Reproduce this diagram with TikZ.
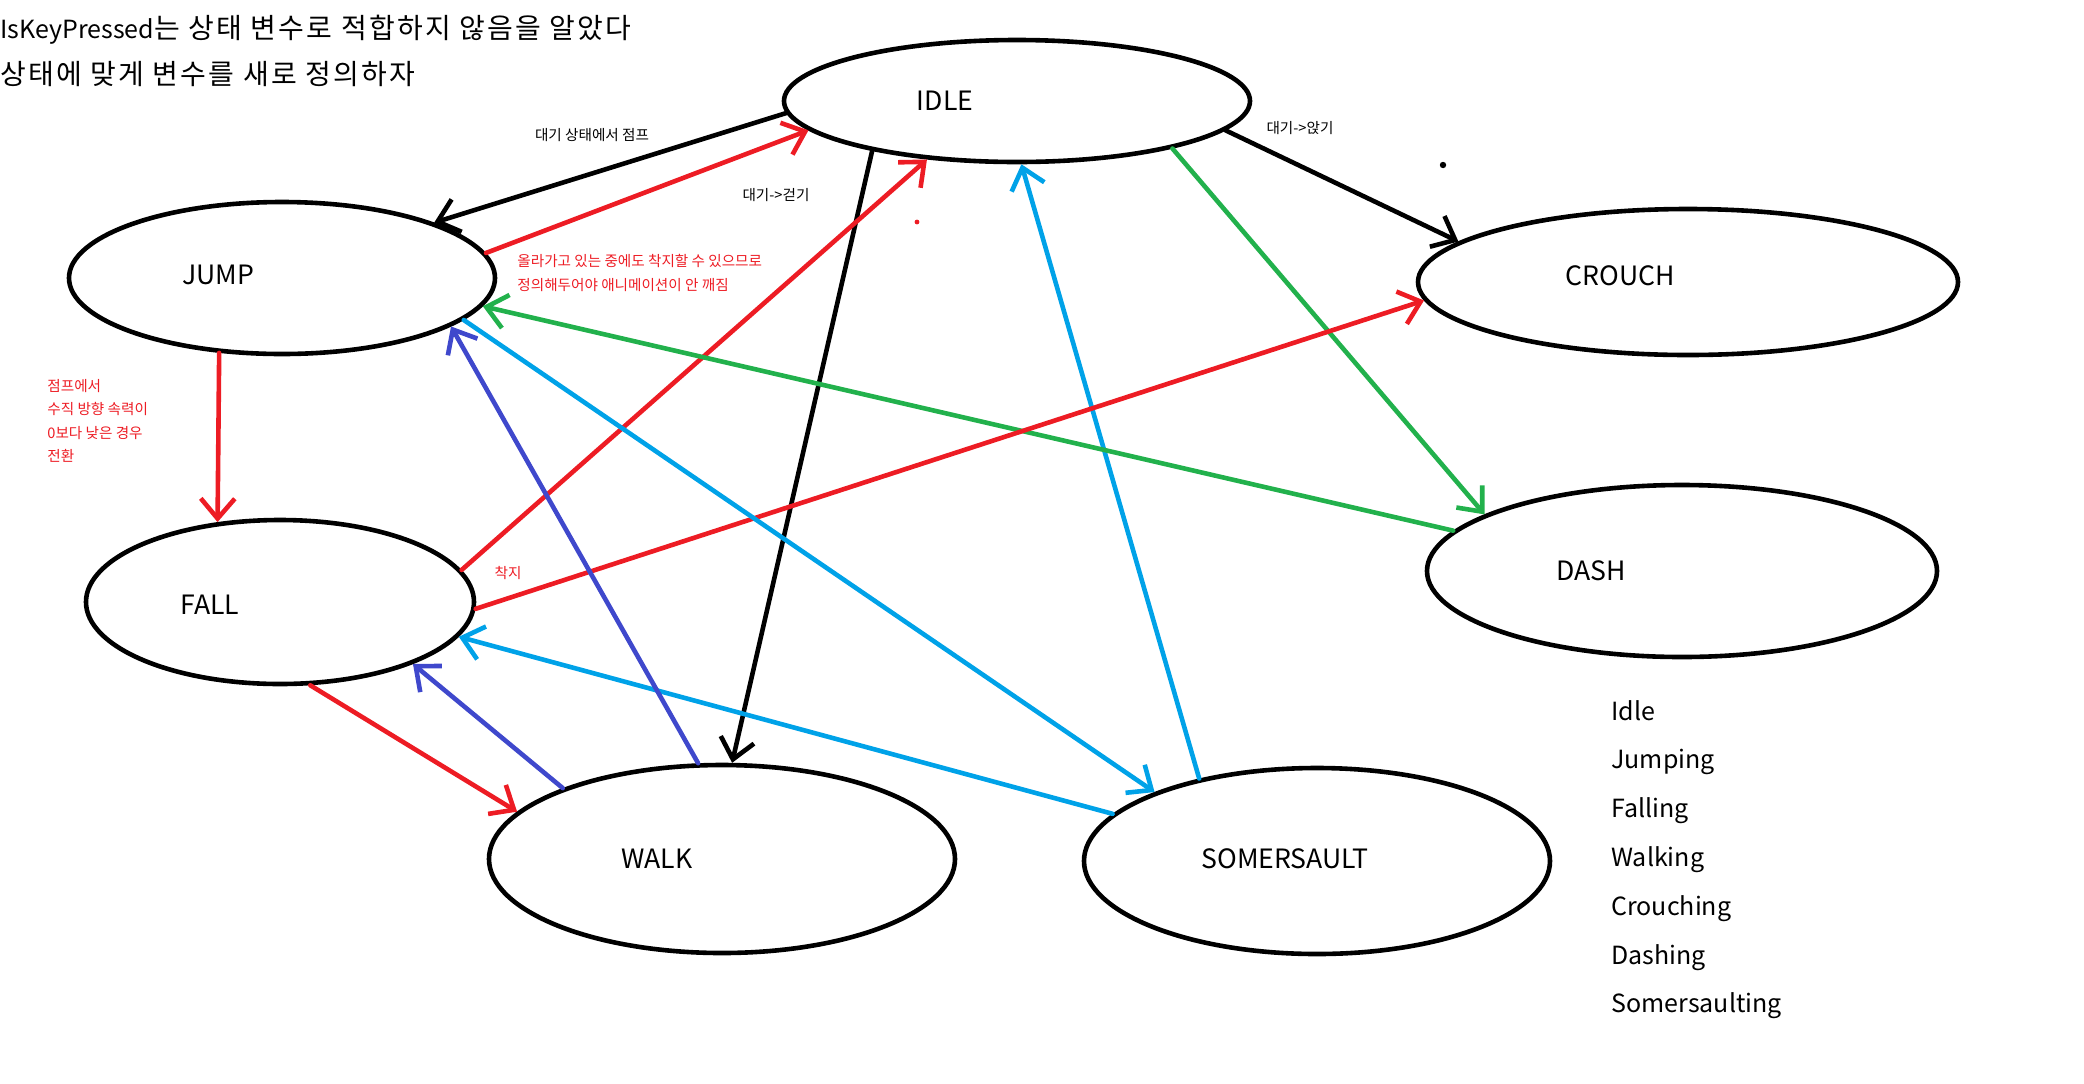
\documentclass[tikz,border=0pt]{standalone}
\usepackage{fontspec}
\setmainfont{Noto Sans CJK KR}
\newfontfamily\widehangul[LetterSpace=8]{Noto Sans CJK KR}
\usetikzlibrary{arrows.meta,shapes.geometric,positioning}
\definecolor{pred}{RGB}{237,28,36}
\definecolor{pgreen}{RGB}{34,177,76}
\definecolor{psky}{RGB}{0,162,232}
\definecolor{pindigo}{RGB}{63,72,204}
\tikzset{
  state/.style={draw=black, line width=2.3pt, ellipse, inner sep=0pt},
  statename/.style={font=\fontsize{13.3pt}{15pt}\selectfont, inner sep=0pt},
  flow/.style={line width=2.3pt, line cap=round, -{Straight Barb[length=10pt,width=17pt]}},
  remark/.style={font=\fontsize{7.3pt}{11.7pt}\selectfont, inner sep=0pt, align=left},
  listitem/.style={font=\fontsize{12.5pt}{14pt}\selectfont, inner sep=0pt, anchor=base west},
  headhangul/.style={font=\widehangul\fontsize{14pt}{16pt}\selectfont},
}

\begin{document}
\begin{tikzpicture}[x=0.5pt,y=-0.5pt]
  \useasboundingbox (0,0) rectangle (2084,1083);

  \node[listitem] (headline) at (0,38) {IsKeyPressed{\widehangul\fontsize{14pt}{16pt}\selectfont 는 상태 변수로 적합하지 않음을 알았다}};
  \node[listitem, headhangul] (subline) at (0,84) {상태에 맞게 변수를 새로 정의하자};

  \node[state, minimum width=233pt, minimum height=61pt] (idle) at (1017,101) {};
  \node[state, minimum width=213pt, minimum height=76pt] (jump) at (282,278) {};
  \node[state, minimum width=194pt, minimum height=82pt] (fall) at (280,602) {};
  \node[state, minimum width=233pt, minimum height=94pt] (walk) at (722,859) {};
  \node[state, minimum width=233pt, minimum height=93pt] (somer) at (1317,861) {};
  \node[state, minimum width=270pt, minimum height=73pt] (crouch) at (1688,282) {};
  \node[state, minimum width=255pt, minimum height=86pt] (dash) at (1682,571) {};

  \node[statename] (idleL) at (945,101) {IDLE};
  \node[statename] (jumpL) at (218,275) {JUMP};
  \node[statename] (fallL) at (210,605) {FALL};
  \node[statename] (walkL) at (657,859) {WALK};
  \node[statename] (somerL) at (1285,859) {SOMERSAULT};
  \node[statename] (crouchL) at (1620,276) {CROUCH};
  \node[statename] (dashL) at (1591,571) {DASH};

  \draw[flow] (idle.183) -- (jump.20);
  \draw[flow, pred] (jump.7) -- (idle.188);
  \draw[flow] (idle.352) -- (crouch.170);
  \draw[flow] (idle.199) -- (walk.84);
  \draw[flow, pred] (fall.10) -- (idle.213);
  \draw[flow, psky] (somer.145) -- (idle.274);
  \draw[flow, pgreen] (idle.343) -- (dash.164);
  \draw[flow, pgreen] (dash.170) -- (jump.352);
  \draw[flow, pred] (fall.358) -- (crouch.184);
  \draw[flow, pred] (jump.230) -- (fall.128);
  \draw[flow, psky] (jump.347) -- (somer.157);
  \draw[flow, psky] (somer.167) -- (fall.349);
  \draw[flow, pindigo] (walk.104) -- (jump.344);
  \draw[flow, pindigo] (walk.156) -- (fall.335);
  \draw[flow, pred] (fall.290) -- (walk.167);

  \node[remark] (waitjump) at (592,135) {대기 상태에서 점프};
  \node[remark] (waitwalk) at (776,195) {대기->걷기};
  \node[remark] (waitcrouch) at (1300,128) {대기->앉기};
  \node[remark, pred, anchor=west] (risenote) at (517,273) {올라가고 있는 중에도 착지할 수 있으므로\\정의해두어야 애니메이션이 안 깨짐};
  \node[remark, pred, anchor=west] (fallnote) at (47,421) {점프에서\\수직 방향 속력이\\0보다 낮은 경우\\전환};
  \node[remark, pred] (landnote) at (508,573) {착지};

  \fill (1443,165) circle (1.6pt);
  \fill[pred] (917,222) circle (1.2pt);

  \foreach \name [count=\i from 0] in {Idle,Jumping,Falling,Walking,Crouching,Dashing,Somersaulting}
    \node[listitem] (item\i) at (1611,{720+48.8*\i}) {\name};
\end{tikzpicture}
\end{document}
